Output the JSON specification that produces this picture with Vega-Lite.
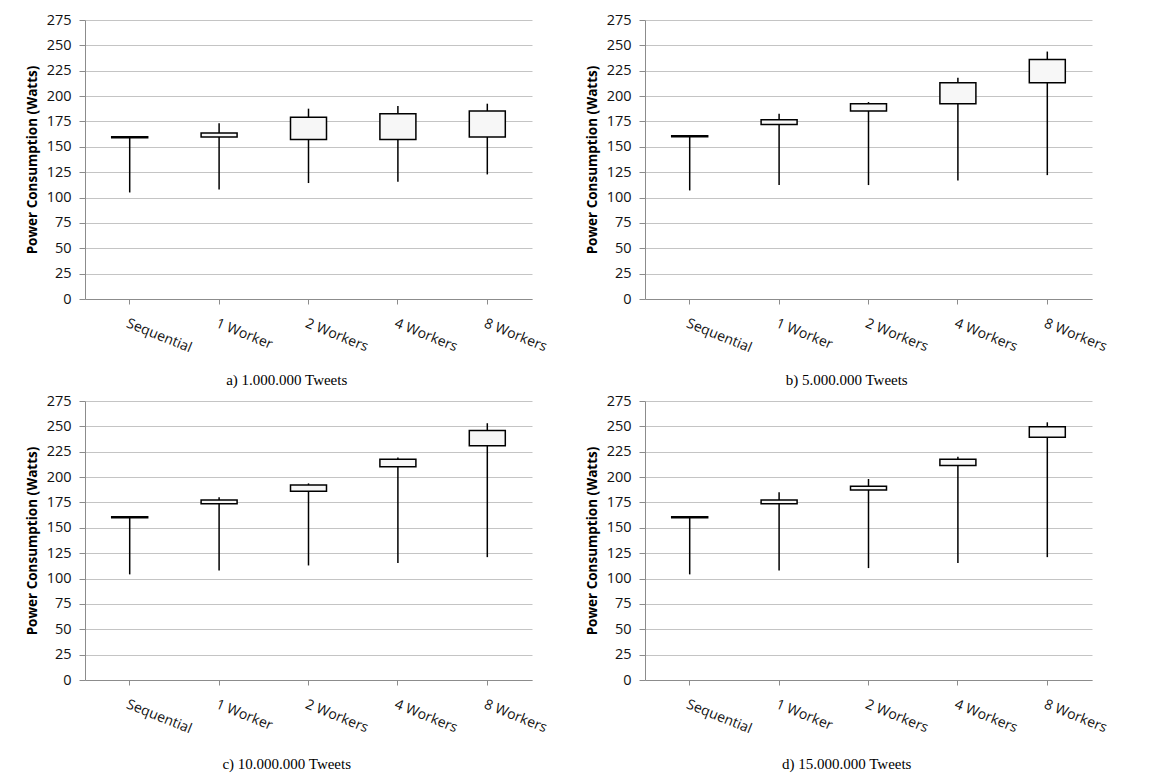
{
  "$schema": "https://vega.github.io/schema/vega-lite/v6.json",
  "background": "white",
  "padding": {"left": 25, "top": 12, "right": 5, "bottom": 5},
  "bounds": "flush",
  "columns": 2,
  "spacing": {"row": 102, "column": 113},
  "datasets": {
    "boxes": [
      {"panel": "a", "cat": "Sequential", "min": 105, "q1": 159, "q3": 160, "max": 160},
      {"panel": "a", "cat": "1 Worker", "min": 108, "q1": 159.8, "q3": 163.7, "max": 173.2},
      {"panel": "a", "cat": "2 Workers", "min": 114.3, "q1": 157.1, "q3": 179.1, "max": 187.6},
      {"panel": "a", "cat": "4 Workers", "min": 115.6, "q1": 157.1, "q3": 182.7, "max": 190.2},
      {"panel": "a", "cat": "8 Workers", "min": 122.8, "q1": 159.8, "q3": 185.3, "max": 192.5},
      {"panel": "b", "cat": "Sequential", "min": 107, "q1": 160, "q3": 161, "max": 161},
      {"panel": "b", "cat": "1 Worker", "min": 112.3, "q1": 171.9, "q3": 176.8, "max": 182.7},
      {"panel": "b", "cat": "2 Workers", "min": 112.3, "q1": 185.3, "q3": 192.5, "max": 194.1},
      {"panel": "b", "cat": "4 Workers", "min": 116.9, "q1": 192.5, "q3": 213.1, "max": 218},
      {"panel": "b", "cat": "8 Workers", "min": 122.1, "q1": 213.1, "q3": 236, "max": 243.9},
      {"panel": "c", "cat": "Sequential", "min": 104.1, "q1": 160, "q3": 161, "max": 161},
      {"panel": "c", "cat": "1 Worker", "min": 108, "q1": 173.8, "q3": 177.4, "max": 180.1},
      {"panel": "c", "cat": "2 Workers", "min": 112.9, "q1": 186, "q3": 192.2, "max": 193.8},
      {"panel": "c", "cat": "4 Workers", "min": 115.2, "q1": 210.2, "q3": 217.7, "max": 219.3},
      {"panel": "c", "cat": "8 Workers", "min": 121.1, "q1": 230.8, "q3": 245.9, "max": 253.1},
      {"panel": "d", "cat": "Sequential", "min": 104.1, "q1": 160, "q3": 161, "max": 161},
      {"panel": "d", "cat": "1 Worker", "min": 108, "q1": 173.8, "q3": 177.4, "max": 185},
      {"panel": "d", "cat": "2 Workers", "min": 110.3, "q1": 187.3, "q3": 190.9, "max": 198.1},
      {"panel": "d", "cat": "4 Workers", "min": 115.2, "q1": 211.5, "q3": 217.7, "max": 220},
      {"panel": "d", "cat": "8 Workers", "min": 121.1, "q1": 239.3, "q3": 249.5, "max": 254}
    ]
  },
  "concat": [
    {
      "width": 447, "height": 279,
      "data": {"name": "boxes"},
      "title": {"text": "a) 1.000.000 Tweets", "offset": 18},
      "transform": [{"filter": "datum.panel == 'a'"}],
      "encoding": {"x": {"field": "cat", "type": "nominal", "sort": ["Sequential", "1 Worker", "2 Workers", "4 Workers", "8 Workers"], "scale": {"paddingInner": 0, "paddingOuter": 0}, "title": null}},
      "layer": [
        {"mark": {"type": "rule", "color": "black", "strokeWidth": 1.5}, "encoding": {"y": {"field": "min", "type": "quantitative", "scale": {"domain": [0, 275], "nice": false}, "axis": {"values": [0, 25, 50, 75, 100, 125, 150, 175, 200, 225, 250, 275], "tickCount": 12}, "title": "Power Consumption  (Watts)"}, "y2": {"field": "max"}}},
        {"mark": {"type": "bar", "size": 36, "fill": "#f7f7f7", "stroke": "black", "strokeWidth": 1.5}, "encoding": {"y": {"field": "q1", "type": "quantitative", "axis": {"values": [0, 25, 50, 75, 100, 125, 150, 175, 200, 225, 250, 275], "tickCount": 12}, "title": "Power Consumption  (Watts)"}, "y2": {"field": "q3"}}}
      ]
    },
    {
      "width": 447, "height": 279,
      "data": {"name": "boxes"},
      "title": {"text": "b) 5.000.000 Tweets", "offset": 18},
      "transform": [{"filter": "datum.panel == 'b'"}],
      "encoding": {"x": {"field": "cat", "type": "nominal", "sort": ["Sequential", "1 Worker", "2 Workers", "4 Workers", "8 Workers"], "scale": {"paddingInner": 0, "paddingOuter": 0}, "title": null}},
      "layer": [
        {"mark": {"type": "rule", "color": "black", "strokeWidth": 1.5}, "encoding": {"y": {"field": "min", "type": "quantitative", "scale": {"domain": [0, 275], "nice": false}, "axis": {"values": [0, 25, 50, 75, 100, 125, 150, 175, 200, 225, 250, 275], "tickCount": 12}, "title": "Power Consumption  (Watts)"}, "y2": {"field": "max"}}},
        {"mark": {"type": "bar", "size": 36, "fill": "#f7f7f7", "stroke": "black", "strokeWidth": 1.5}, "encoding": {"y": {"field": "q1", "type": "quantitative", "axis": {"values": [0, 25, 50, 75, 100, 125, 150, 175, 200, 225, 250, 275], "tickCount": 12}, "title": "Power Consumption  (Watts)"}, "y2": {"field": "q3"}}}
      ]
    },
    {
      "width": 447, "height": 279,
      "data": {"name": "boxes"},
      "title": {"text": "c) 10.000.000 Tweets", "offset": 21},
      "transform": [{"filter": "datum.panel == 'c'"}],
      "encoding": {"x": {"field": "cat", "type": "nominal", "sort": ["Sequential", "1 Worker", "2 Workers", "4 Workers", "8 Workers"], "scale": {"paddingInner": 0, "paddingOuter": 0}, "title": null}},
      "layer": [
        {"mark": {"type": "rule", "color": "black", "strokeWidth": 1.5}, "encoding": {"y": {"field": "min", "type": "quantitative", "scale": {"domain": [0, 275], "nice": false}, "axis": {"values": [0, 25, 50, 75, 100, 125, 150, 175, 200, 225, 250, 275], "tickCount": 12}, "title": "Power Consumption  (Watts)"}, "y2": {"field": "max"}}},
        {"mark": {"type": "bar", "size": 36, "fill": "#f7f7f7", "stroke": "black", "strokeWidth": 1.5}, "encoding": {"y": {"field": "q1", "type": "quantitative", "axis": {"values": [0, 25, 50, 75, 100, 125, 150, 175, 200, 225, 250, 275], "tickCount": 12}, "title": "Power Consumption  (Watts)"}, "y2": {"field": "q3"}}}
      ]
    },
    {
      "width": 447, "height": 279,
      "data": {"name": "boxes"},
      "title": {"text": "d) 15.000.000 Tweets", "offset": 21},
      "transform": [{"filter": "datum.panel == 'd'"}],
      "encoding": {"x": {"field": "cat", "type": "nominal", "sort": ["Sequential", "1 Worker", "2 Workers", "4 Workers", "8 Workers"], "scale": {"paddingInner": 0, "paddingOuter": 0}, "title": null}},
      "layer": [
        {"mark": {"type": "rule", "color": "black", "strokeWidth": 1.5}, "encoding": {"y": {"field": "min", "type": "quantitative", "scale": {"domain": [0, 275], "nice": false}, "axis": {"values": [0, 25, 50, 75, 100, 125, 150, 175, 200, 225, 250, 275], "tickCount": 12}, "title": "Power Consumption  (Watts)"}, "y2": {"field": "max"}}},
        {"mark": {"type": "bar", "size": 36, "fill": "#f7f7f7", "stroke": "black", "strokeWidth": 1.5}, "encoding": {"y": {"field": "q1", "type": "quantitative", "axis": {"values": [0, 25, 50, 75, 100, 125, 150, 175, 200, 225, 250, 275], "tickCount": 12}, "title": "Power Consumption  (Watts)"}, "y2": {"field": "q3"}}}
      ]
    }
  ],
  "config": {
    "view": {"stroke": null},
    "title": {"orient": "bottom", "anchor": "middle", "frame": "bounds", "font": "Liberation Serif", "fontSize": 15, "fontWeight": "normal", "color": "black", "offset": 21},
    "axisY": {"labelOverlap": false, "grid": true, "gridColor": "#c4c4c4", "gridWidth": 1, "domainColor": "#8c8c8c", "tickColor": "#8c8c8c", "tickSize": 6, "labelPadding": 8, "labelFont": "Open Sans", "labelFontSize": 14.5, "labelColor": "#111", "titleFont": "Open Sans", "titleFontSize": 13.5, "titleFontWeight": "bold", "titleColor": "black", "titlePadding": 7},
    "axisX": {"grid": false, "domainColor": "#8c8c8c", "tickColor": "#8c8c8c", "tickSize": 5, "labelAngle": 22, "labelAlign": "left", "labelBaseline": "top", "labelPadding": 12, "labelOverlap": false, "labelFont": "Open Sans", "labelFontSize": 14, "labelColor": "#111"}
  }
}
